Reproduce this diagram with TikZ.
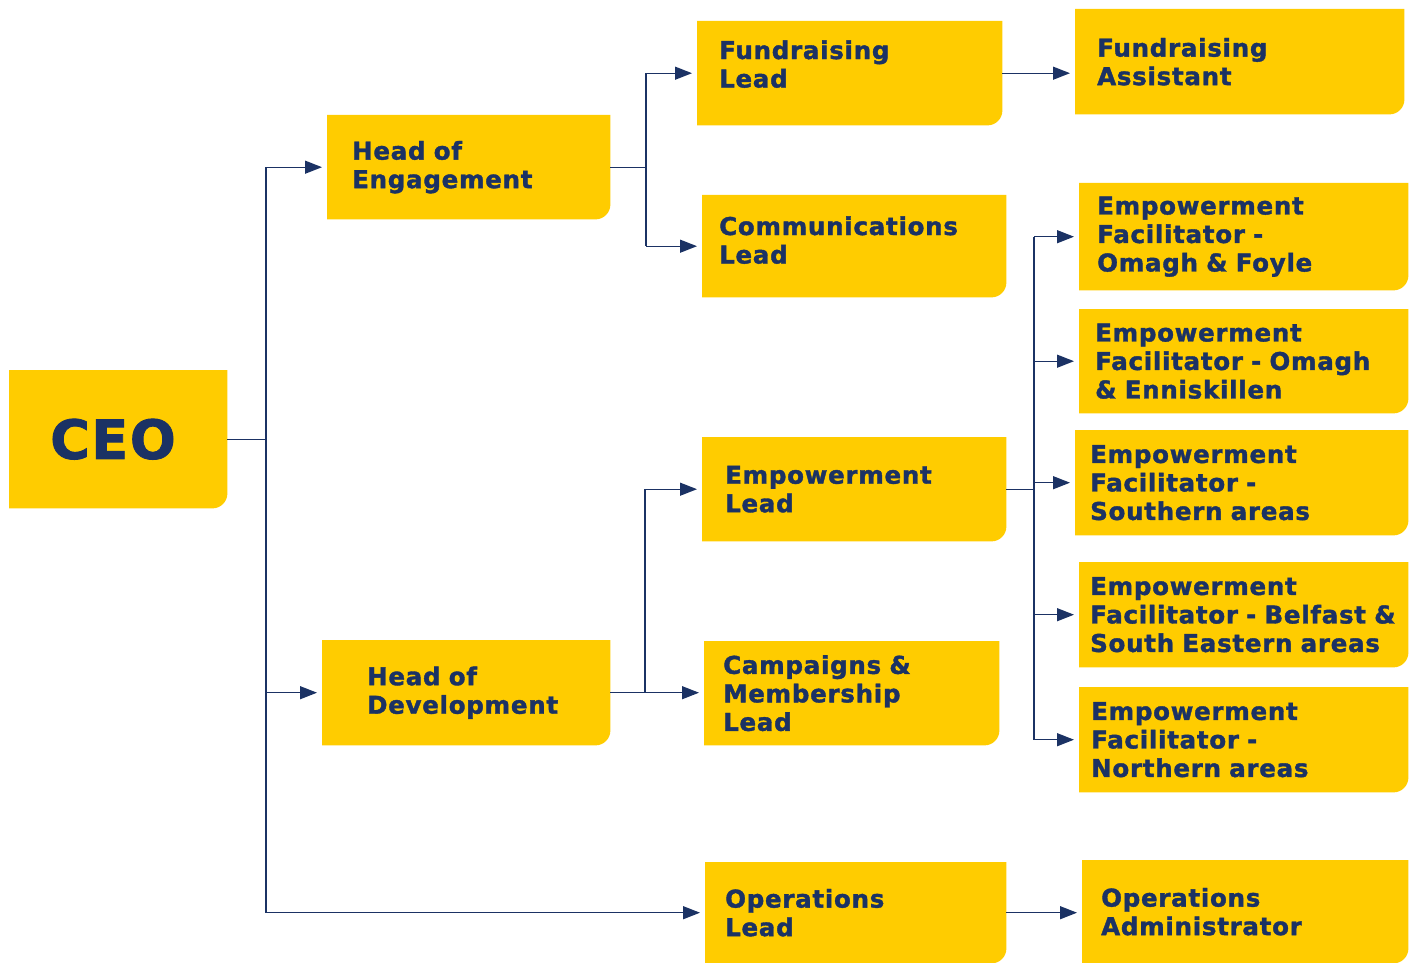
\documentclass[tikz,border=0pt]{standalone}
\usepackage{fontspec}
\setmainfont{DejaVu Sans}[BoldFeatures={FakeBold=1.5,LetterSpace=3}]
\usetikzlibrary{arrows.meta,backgrounds}

\definecolor{postit}{HTML}{FFCC00}
\definecolor{navy}{HTML}{1B3264}

\tikzset{
  role/.style={anchor=north west, align=left, text=navy, inner ysep=0pt,
    font=\bfseries\fontsize{24.5}{28.5}\selectfont},
  wire/.style={navy, line width=1.3pt},
  feed/.style={wire, -{Triangle[length=17pt,width=13pt]}, shorten >=5pt},
}

\begin{document}
\begin{tikzpicture}[x=1pt,y=-1pt]
  \useasboundingbox (0,0) rectangle (1417,963);

  % Top of the tree
  \node[role, text width=136pt, inner xsep=41pt, minimum height=138pt,
        font=\bfseries\fontsize{54}{60}\selectfont] (ceo) at (9,370) {CEO};

  % Heads
  \node[role, text width=233pt, inner xsep=25pt, minimum height=104pt] (eng) at (327,115) {Head of\\Engagement};
  \node[role, text width=198pt, inner xsep=45pt, minimum height=105pt] (dev) at (322,640) {Head of\\Development};

  % Leads
  \node[role, text width=261pt, inner xsep=22pt, minimum height=104pt] (fund) at (697,21) {Fundraising\\Lead\\[-10pt]\mbox{}};
  \node[role, text width=270pt, inner xsep=17pt, minimum height=102pt] (comms) at (702,195) {Communications\\Lead\\[-16pt]\mbox{}};
  \node[role, text width=258pt, inner xsep=23pt, minimum height=104pt] (empl) at (702,437) {Empowerment\\Lead};
  \node[role, text width=257pt, inner xsep=19pt, minimum height=104pt] (camp) at (704,641) {Campaigns \&\\Membership\\Lead};
  \node[role, text width=261pt, inner xsep=20pt, minimum height=101pt] (opsl) at (705,862) {Operations\\Lead};

  % Staff
  \node[role, text width=285pt, inner xsep=22pt, minimum height=105pt] (fasst) at (1075,9) {Fundraising\\Assistant};
  \node[role, text width=293pt, inner xsep=18pt, minimum height=107pt] (efof) at (1079,183) {Empowerment\\Facilitator -\\Omagh \& Foyle};
  \node[role, text width=297pt, inner xsep=16pt, minimum height=104pt] (efoe) at (1079,309) {Empowerment\\Facilitator - Omagh\\\& Enniskillen};
  \node[role, text width=303pt, inner xsep=15pt, minimum height=105pt] (efs) at (1075,430) {Empowerment\\Facilitator -\\Southern areas};
  \node[role, text width=307pt, inner xsep=11pt, minimum height=105pt] (efb) at (1079,562) {Empowerment\\\mbox{Facilitator - Belfast \&}\\South Eastern areas};
  \node[role, text width=305pt, inner xsep=12pt, minimum height=105pt] (efn) at (1079,687) {Empowerment\\Facilitator -\\Northern areas};
  \node[role, text width=288pt, inner xsep=19pt, minimum height=103pt] (opsadm) at (1082,860) {Operations\\Administrator};

  % Yellow cards, bottom right corner rounded
  \begin{scope}[on background layer]
    \foreach \n in {ceo,eng,dev,fund,comms,empl,camp,opsl,fasst,efof,efoe,efs,efb,efn,opsadm}
      \fill[postit] (\n.north west) -- (\n.north east) -- ([yshift=15pt]\n.south east)
        arc[start angle=0, end angle=-90, radius=15pt] -- (\n.south west) -- cycle;
  \end{scope}

  % Bus lines
  \coordinate (spine) at (266,0);
  \coordinate (engbus) at (646,0);
  \coordinate (devbus) at (645,0);
  \coordinate (empbus) at (1034,0);

  % CEO to heads and operations
  \draw[wire] (ceo.east) -- (ceo.east -| spine);
  \draw[wire] (eng.west -| spine) -- (opsl.west -| spine);
  \foreach \n in {eng,dev,opsl}
    \draw[feed] (\n.west -| spine) -- (\n.west);

  % Engagement
  \draw[wire] (eng.east) -- (eng.east -| engbus);
  \draw[wire] (fund.west -| engbus) -- (comms.west -| engbus);
  \foreach \n in {fund,comms}
    \draw[feed] (\n.west -| engbus) -- (\n.west);
  \draw[feed] (fund.east) -- (fund.east -| fasst.west);

  % Development
  \draw[feed] (dev.east) -- (dev.east -| camp.west);
  \draw[wire] (empl.west -| devbus) -- (dev.east -| devbus);
  \draw[feed] (empl.west -| devbus) -- (empl.west);

  % Empowerment facilitators
  \draw[wire] (empl.east) -- (empl.east -| empbus);
  \draw[wire] (efof.west -| empbus) -- (efn.west -| empbus);
  \foreach \n in {efof,efoe,efs,efb,efn}
    \draw[feed] (\n.west -| empbus) -- (\n.west);

  % Operations
  \draw[feed] (opsl.east) -- (opsl.east -| opsadm.west);
\end{tikzpicture}
\end{document}
